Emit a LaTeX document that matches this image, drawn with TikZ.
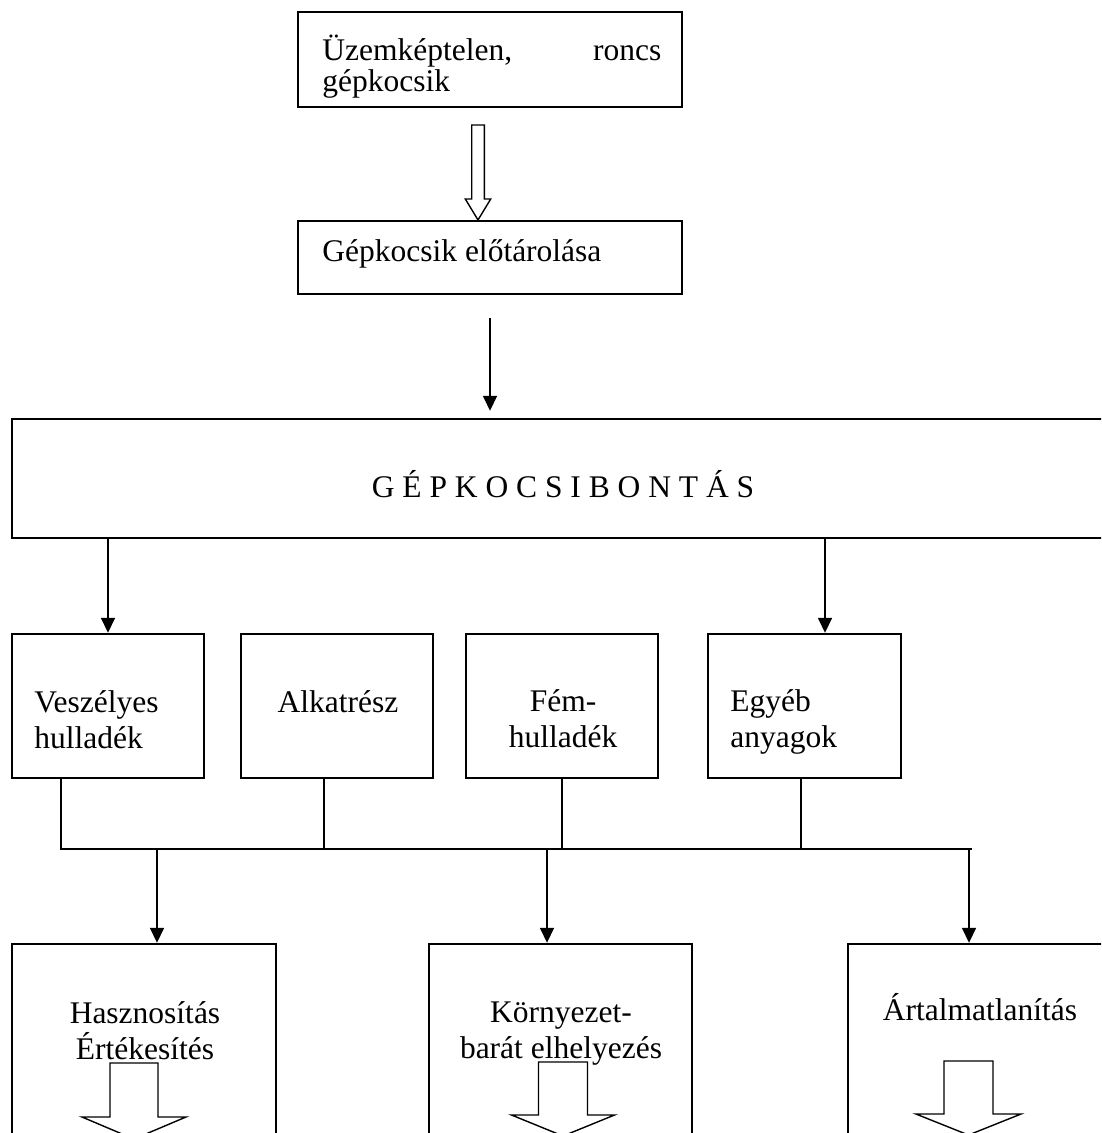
\documentclass[tikz,border=0pt]{standalone}
\usepackage{fontspec}
\setmainfont{Liberation Serif}
\usetikzlibrary{arrows.meta}
\newcommand\hollowarr[7]{% name, cx, shaft half, top, base, head half, tip
  \draw[hollow] (#2-#3,#4) -- (#2+#3,#4) -- (#2+#3,#5) -- (#2+#6,#5) -- (#2,#7) coordinate (#1) -- (#2-#6,#5) -- (#2-#3,#5) -- cycle;}
\begin{document}
\begin{tikzpicture}[x=0.5pt,y=-0.5pt,
  box/.style={draw, line width=1.2pt, inner sep=0pt, rectangle},
  conn/.style={line width=0.8pt},
  arr/.style={conn, -{Triangle[width=7pt,length=7.5pt]}},
  txt/.style={inner sep=0pt, font=\fontsize{15.75pt}{18pt}\selectfont},
  hollow/.style={draw, line width=0.7pt, fill=white, line join=miter}]
\useasboundingbox (0,0) rectangle (1101,1133);
\clip (0,0) rectangle (1101,1133);

% boxes
\node[box, minimum width=192pt, minimum height=47.5pt] (t1) at (490,59.5) {};
\node[box, minimum width=192pt, minimum height=36.5pt] (t2) at (490,257.5) {};
\node[box, minimum width=551pt, minimum height=59.5pt] (B) at (563,478.5) {};
\node[box, minimum width=96pt, minimum height=72pt] (v1) at (108,706) {};
\node[box, minimum width=96pt, minimum height=72pt] (v2) at (337,706) {};
\node[box, minimum width=96pt, minimum height=72pt] (v3) at (562,706) {};
\node[box, minimum width=96.5pt, minimum height=72pt] (v4) at (804.5,706) {};
\node[box, minimum width=132pt, minimum height=113pt] (r1) at (144,1057) {};
\node[box, minimum width=131.5pt, minimum height=113pt] (r2) at (560.5,1057) {};
\node[box, minimum width=132pt, minimum height=113pt] (r3) at (980,1057) {};

% texts
\node[txt, anchor=base west] (t1txt) at (322,61) {\parbox[t]{169.5pt}{\fontsize{15.75pt}{14pt}\selectfont Üzemképtelen,\hfill roncs\\gépkocsik}};
\node[txt, anchor=base west] (t2txt) at (322,262) {Gépkocsik előtárolása};
\node[txt, anchor=base] (Btxt) at (563,497) {\spaceskip=0.25em\relax G É P K O C S I B O N T Á S};
\node[txt, anchor=base west] (v1txt) at (34,712) {\parbox[t]{80pt}{Veszélyes\\hulladék}};
\node[txt, anchor=base] (v2txt) at (338,712) {Alkatrész};
\node[txt, anchor=base] (v3txt) at (563,711) {\parbox[t]{90pt}{\centering Fém-\\hulladék}};
\node[txt, anchor=base west] (v4txt) at (730,711) {\parbox[t]{80pt}{Egyéb\\anyagok}};
\node[txt, anchor=base] (r1txt) at (145,1023) {\parbox[t]{125pt}{\centering Hasznosítás\\Értékesítés}};
\node[txt, anchor=base] (r2txt) at (561,1022) {\parbox[t]{125pt}{\centering Környezet-\\barát elhelyezés}};
\node[txt, anchor=base] (r3txt) at (980,1020) {Ártalmatlanítás};

% hollow block arrows
\hollowarr{h0}{478}{6.3}{125}{199}{12.7}{220}
\hollowarr{h1}{134}{24}{1063}{1117}{52}{1139}
\hollowarr{h2}{563}{24.5}{1062}{1115}{51.5}{1136}
\hollowarr{h3}{968.5}{24.5}{1061}{1114}{52.5}{1135}

% connectors
\draw[arr, shorten <=11.5pt, shorten >=3.5pt] (t2.south) -- (t2.south |- B.north);
\draw[arr] (B.south -| v1.north) -- (v1.north);
\coordinate (v4in) at ([xshift=10.25pt]v4.north);
\draw[arr] (v4in |- B.south) -- (v4in);

\coordinate (bus) at (0,849);
\coordinate (busR) at (972,849);
\coordinate (p1) at ([xshift=-23.5pt]v1.south);
\coordinate (p2) at ([xshift=-6.5pt]v2.south);
\coordinate (p3) at (v3.south);
\coordinate (p4) at ([xshift=-1.75pt]v4.south);
\draw[conn] (p1) |- (busR);
\draw[conn] (p2) -- (p2 |- bus);
\draw[conn] (p3) -- (p3 |- bus);
\draw[conn] (p4) -- (p4 |- bus);

\coordinate (i1) at ([xshift=6.5pt]r1.north);
\coordinate (i2) at ([xshift=-6.75pt]r2.north);
\coordinate (i3) at ([xshift=-5.5pt]r3.north);
\draw[arr] (i1 |- bus) -- (i1);
\draw[arr] (i2 |- bus) -- (i2);
\draw[arr] (i3 |- bus) -- (i3);
\end{tikzpicture}
\end{document}
